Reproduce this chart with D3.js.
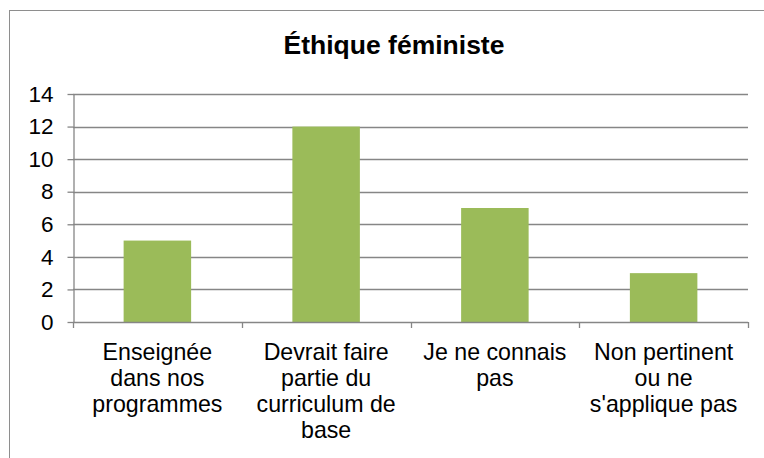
<!DOCTYPE html>
<html>
<head>
<meta charset="utf-8">
<script src="https://cdn.jsdelivr.net/npm/d3@7"></script>
<style>
  html, body { margin: 0; padding: 0; background: #fff; }
  svg { display: block; }
  text { font-family: "Liberation Sans", Arial, sans-serif; fill: #000; }
</style>
</head>
<body>
<svg id="chart" width="764" height="458"></svg>
<script>
const title = "Éthique féministe";
const categories = [
  "Enseignée dans nos programmes",
  "Devrait faire partie du curriculum de base",
  "Je ne connais pas",
  "Non pertinent ou ne s'applique pas"
];
const values = [5, 12, 7, 3];
const yTicks = [0, 2, 4, 6, 8, 10, 12, 14];

const svg = d3.select("#chart");
const x0 = 73, x1 = 748, y0 = 322, y1 = 94;
const labelSize = "23.2px";

// chart border (extends beyond the visible area on right/bottom)
svg.append("rect")
  .attr("x", 9.5).attr("y", 10.5)
  .attr("width", 800).attr("height", 500)
  .attr("fill", "#fff").attr("stroke", "#8e8e8e").attr("stroke-width", 1);

const x = d3.scaleBand().domain(categories).range([x0, x1]).paddingInner(0.6).paddingOuter(0.3);
const y = d3.scaleLinear().domain([0, 14]).range([y0, y1]);

// gridlines
svg.append("g").selectAll("line").data(yTicks.filter(d => d > 0)).join("line")
  .attr("x1", x0).attr("x2", x1)
  .attr("y1", d => Math.round(y(d)) + 0.5).attr("y2", d => Math.round(y(d)) + 0.5)
  .attr("stroke", "#868686").attr("stroke-width", 1.3);

// bars
svg.append("g").selectAll("rect").data(values).join("rect")
  .attr("x", (d, i) => x(categories[i]))
  .attr("width", x.bandwidth())
  .attr("y", d => y(d))
  .attr("height", d => y(0) - y(d))
  .attr("fill", "#9BBB59");

// y axis
const yAxis = d3.axisLeft(y).tickValues(yTicks).tickSize(6).tickPadding(14).tickSizeOuter(0);
const gy = svg.append("g").attr("transform", `translate(${x0 + 0.5},0)`).call(yAxis);
gy.select(".domain").attr("stroke", "#868686").attr("stroke-width", 1.3);
gy.selectAll(".tick line").attr("stroke", "#868686").attr("stroke-width", 1.3);
gy.selectAll(".tick text").style("font-size", "22.5px").style("font-family", '"Liberation Sans", Arial, sans-serif').attr("fill", "#000");

// x axis line
svg.append("line").attr("x1", x0).attr("x2", x1)
  .attr("y1", Math.round(y0) + 0.5).attr("y2", Math.round(y0) + 0.5)
  .attr("stroke", "#868686").attr("stroke-width", 1.3);

// category boundary ticks
const step = (x1 - x0) / categories.length;
const bounds = d3.range(categories.length + 1).map(i => x0 + i * step);
svg.append("g").selectAll("line").data(bounds).join("line")
  .attr("x1", d => Math.round(d) + 0.5).attr("x2", d => Math.round(d) + 0.5)
  .attr("y1", y0).attr("y2", y0 + 6)
  .attr("stroke", "#868686").attr("stroke-width", 1.3);

// category labels with wrapping
const labels = svg.append("g");
categories.forEach((c, i) => {
  const cx = x(c) + x.bandwidth() / 2;
  const t = labels.append("text").attr("text-anchor", "middle").style("font-size", labelSize);
  const words = c.split(" ");
  let lines = [], cur = "";
  const probe = svg.append("text").style("font-size", labelSize);
  words.forEach(w => {
    const test = cur ? cur + " " + w : w;
    probe.text(test);
    if (probe.node().getComputedTextLength() > 155 && cur) { lines.push(cur); cur = w; }
    else cur = test;
  });
  lines.push(cur);
  probe.remove();
  lines.forEach((ln, j) => {
    t.append("tspan").attr("x", cx).attr("y", 359.5 + j * 26).text(ln);
  });
});

// title
svg.append("text").attr("x", 394).attr("y", 54).attr("text-anchor", "middle")
  .style("font-size", "26.5px").style("font-weight", "bold").text(title);
</script>
</body>
</html>
